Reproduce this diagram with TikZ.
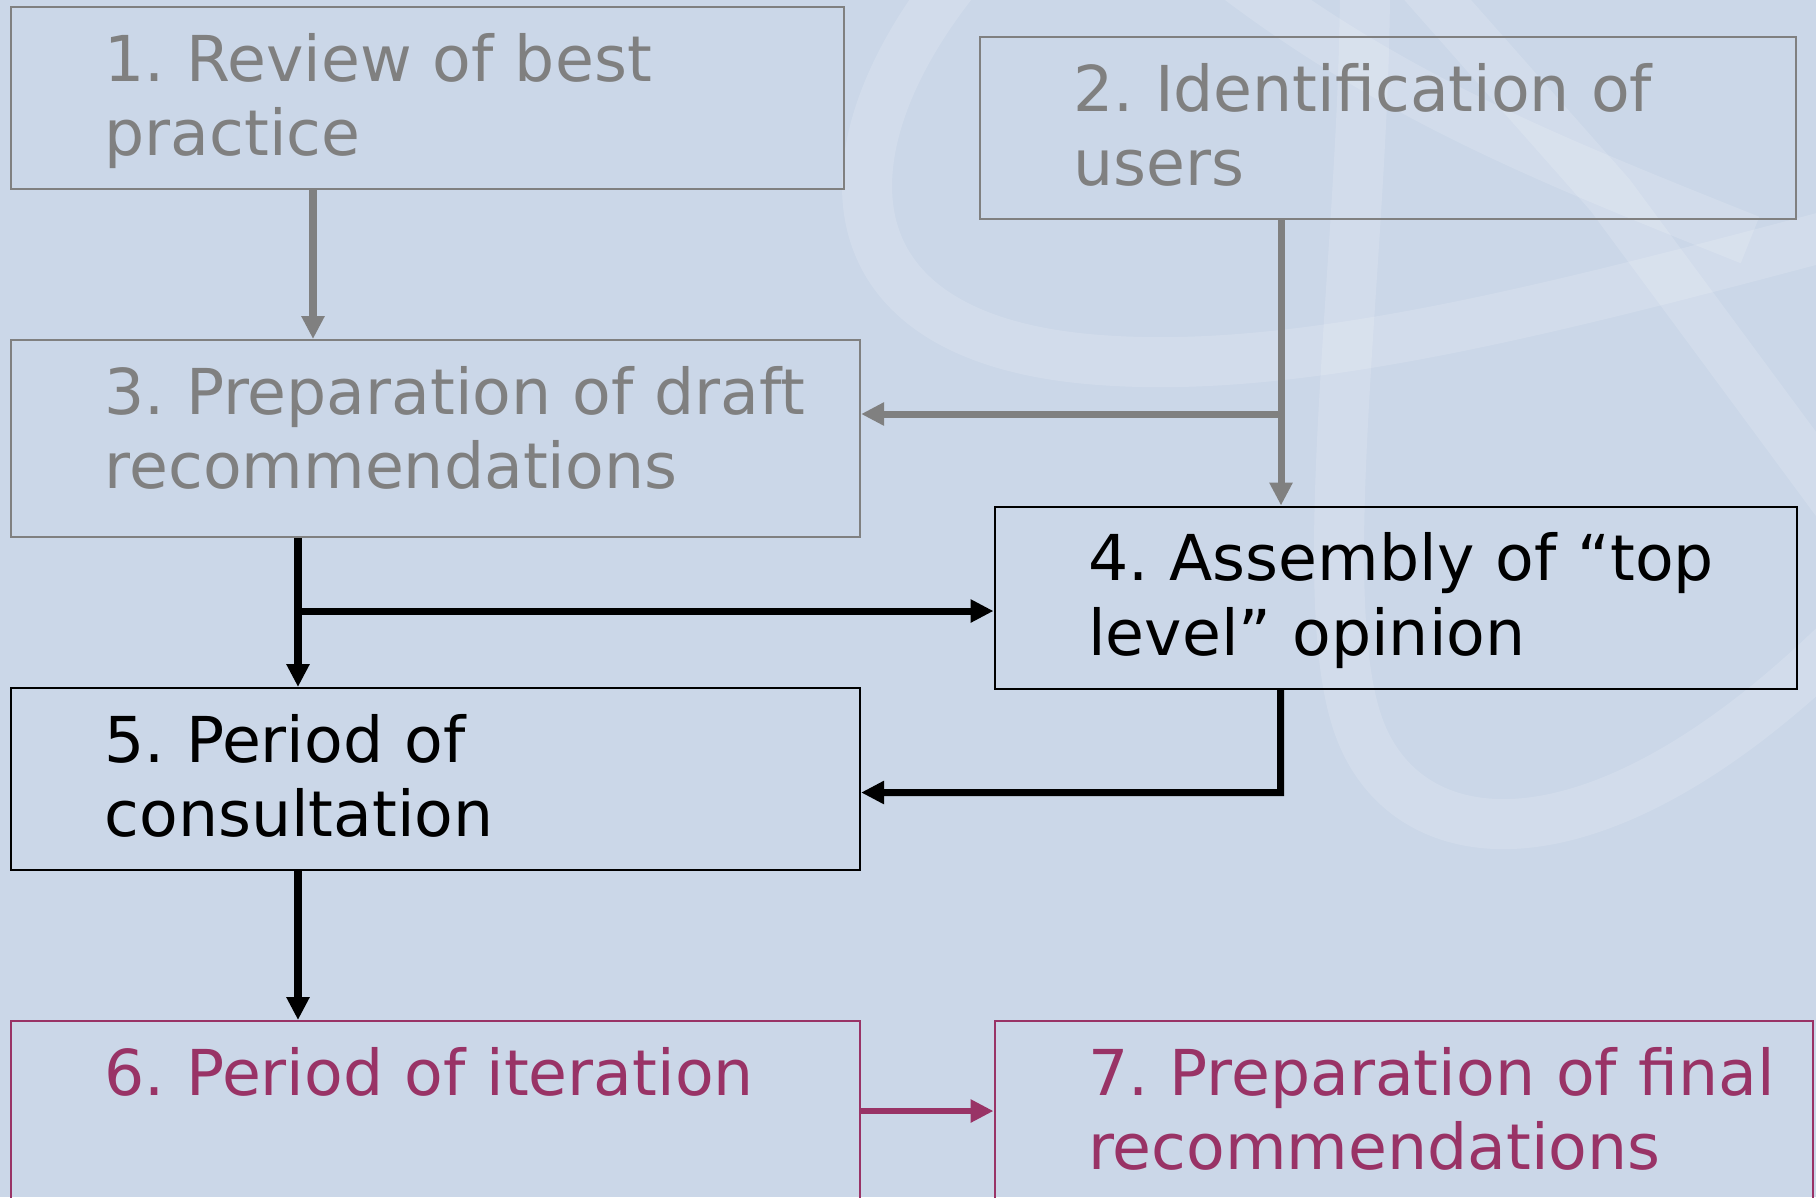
\documentclass[tikz,border=0pt]{standalone}
\usepackage{fontspec}
\setmainfont{DejaVu Sans}
\usetikzlibrary{arrows.meta}
\definecolor{slideBlue}{HTML}{CBD7E8}
\definecolor{stepGray}{HTML}{808080}
\definecolor{stepPurple}{HTML}{993366}
\frenchspacing

\begin{document}
\begin{tikzpicture}[
        boxNode/.style={rectangle, draw, line width=0.6pt, inner sep=0pt, anchor=north west, minimum height=1.82cm},
        labelNode/.style={inner sep=0pt, anchor=base west, text width=8cm, align=left, font=\fontsize{18pt}{21.3pt}\selectfont},
        flowArrow/.style={line width=2pt, -{Triangle[length=0.23cm, width=0.22cm]}},
        swoosh/.style={white, opacity=0.15, line width=0.5cm}
    ]
        % Background and watermark
        \clip (0,0) rectangle (18.16,-11.97);
        \fill[slideBlue] (0,0) rectangle (18.16,-11.97);
        \draw[swoosh] (9.55,0.2) .. controls (8.2,-1.5) and (8.2,-3.4) .. (11.0,-3.6)
            .. controls (13.0,-3.75) and (15.5,-3.1) .. (18.5,-2.3);
        \draw[swoosh] (13.65,0.2) .. controls (13.65,-2.5) and (13.1,-6.0) .. (13.6,-7.3)
            .. controls (14.1,-8.6) and (16.0,-8.8) .. (18.5,-6.3);
        \draw[swoosh] (14.2,0.2) -- (16.1,-1.95) -- (18.5,-5.2);
        \draw[swoosh] (12.4,0.2) .. controls (14.0,-1.0) and (15.5,-1.6) .. (17.5,-2.4);

        % Boxes
        \node[boxNode, draw=stepGray, minimum width=8.33cm] (review) at (0.10,-0.06) {};
        \node[boxNode, draw=stepGray, minimum width=8.16cm] (users) at (9.79,-0.36) {};
        \node[boxNode, draw=stepGray, minimum width=8.49cm, minimum height=1.97cm] (draft) at (0.10,-3.39) {};
        \node[boxNode, minimum width=8.02cm] (assembly) at (9.935,-5.055) {};
        \node[boxNode, minimum width=8.49cm] (consult) at (0.10,-6.87) {};
        \node[boxNode, draw=stepPurple, minimum width=8.49cm, minimum height=2.3cm] (iterate) at (0.10,-10.20) {};
        \node[boxNode, draw=stepPurple, minimum width=8.18cm, minimum height=2.3cm] (final) at (9.935,-10.20) {};

        % Box texts
        \node[labelNode, text=stepGray] (reviewText) at ([xshift=0.94cm, yshift=-0.75cm]review.north west) {1. Review of best\\practice};
        \node[labelNode, text=stepGray] (usersText) at ([xshift=0.94cm, yshift=-0.75cm]users.north west) {2. Identification of\\users};
        \node[labelNode, text=stepGray] (draftText) at ([xshift=0.94cm, yshift=-0.75cm]draft.north west) {3. Preparation of draft\\recommendations};
        \node[labelNode] (assemblyText) at ([xshift=0.94cm, yshift=-0.75cm]assembly.north west) {4. Assembly of “top\\level” opinion};
        \node[labelNode] (consultText) at ([xshift=0.94cm, yshift=-0.75cm]consult.north west) {5. Period of\\consultation};
        \node[labelNode, text=stepPurple] (iterateText) at ([xshift=0.94cm, yshift=-0.75cm]iterate.north west) {6. Period of iteration};
        \node[labelNode, text=stepPurple] (finalText) at ([xshift=0.94cm, yshift=-0.75cm]final.north west) {7. Preparation of final\\recommendations};

        % Connector points
        \coordinate (usersOut) at ([xshift=3.02cm]users.south west);
        \coordinate (grayJoin) at (12.81,-4.14);
        \coordinate (draftOut) at ([xshift=2.88cm]draft.south west);
        \coordinate (blackJoin) at (2.98,-6.11);
        \coordinate (assemblyOut) at ([xshift=2.87cm]assembly.south west);
        \coordinate (blackTurn) at (12.805,-7.925);
        \coordinate (iterateOut) at ([yshift=-0.91cm]iterate.north east);

        % Edges
        \draw[flowArrow, stepGray] ([xshift=3.03cm]review.south west) -- ([xshift=3.03cm]draft.north west);
        \draw[flowArrow, stepGray] (usersOut) -- (usersOut |- assembly.north);
        \draw[flowArrow, stepGray] (grayJoin) -- (grayJoin -| draft.east);
        \draw[flowArrow] (draftOut) -- (draftOut |- consult.north);
        \draw[flowArrow] (blackJoin) -- (blackJoin -| assembly.west);
        \draw[flowArrow] (assemblyOut) -- (blackTurn) -- (blackTurn -| consult.east);
        \draw[flowArrow] ([xshift=2.88cm]consult.south west) -- ([xshift=2.88cm]iterate.north west);
        \draw[flowArrow, stepPurple, line width=1.8pt] (iterateOut) -- (iterateOut -| final.west);
    \end{tikzpicture}
\end{document}
